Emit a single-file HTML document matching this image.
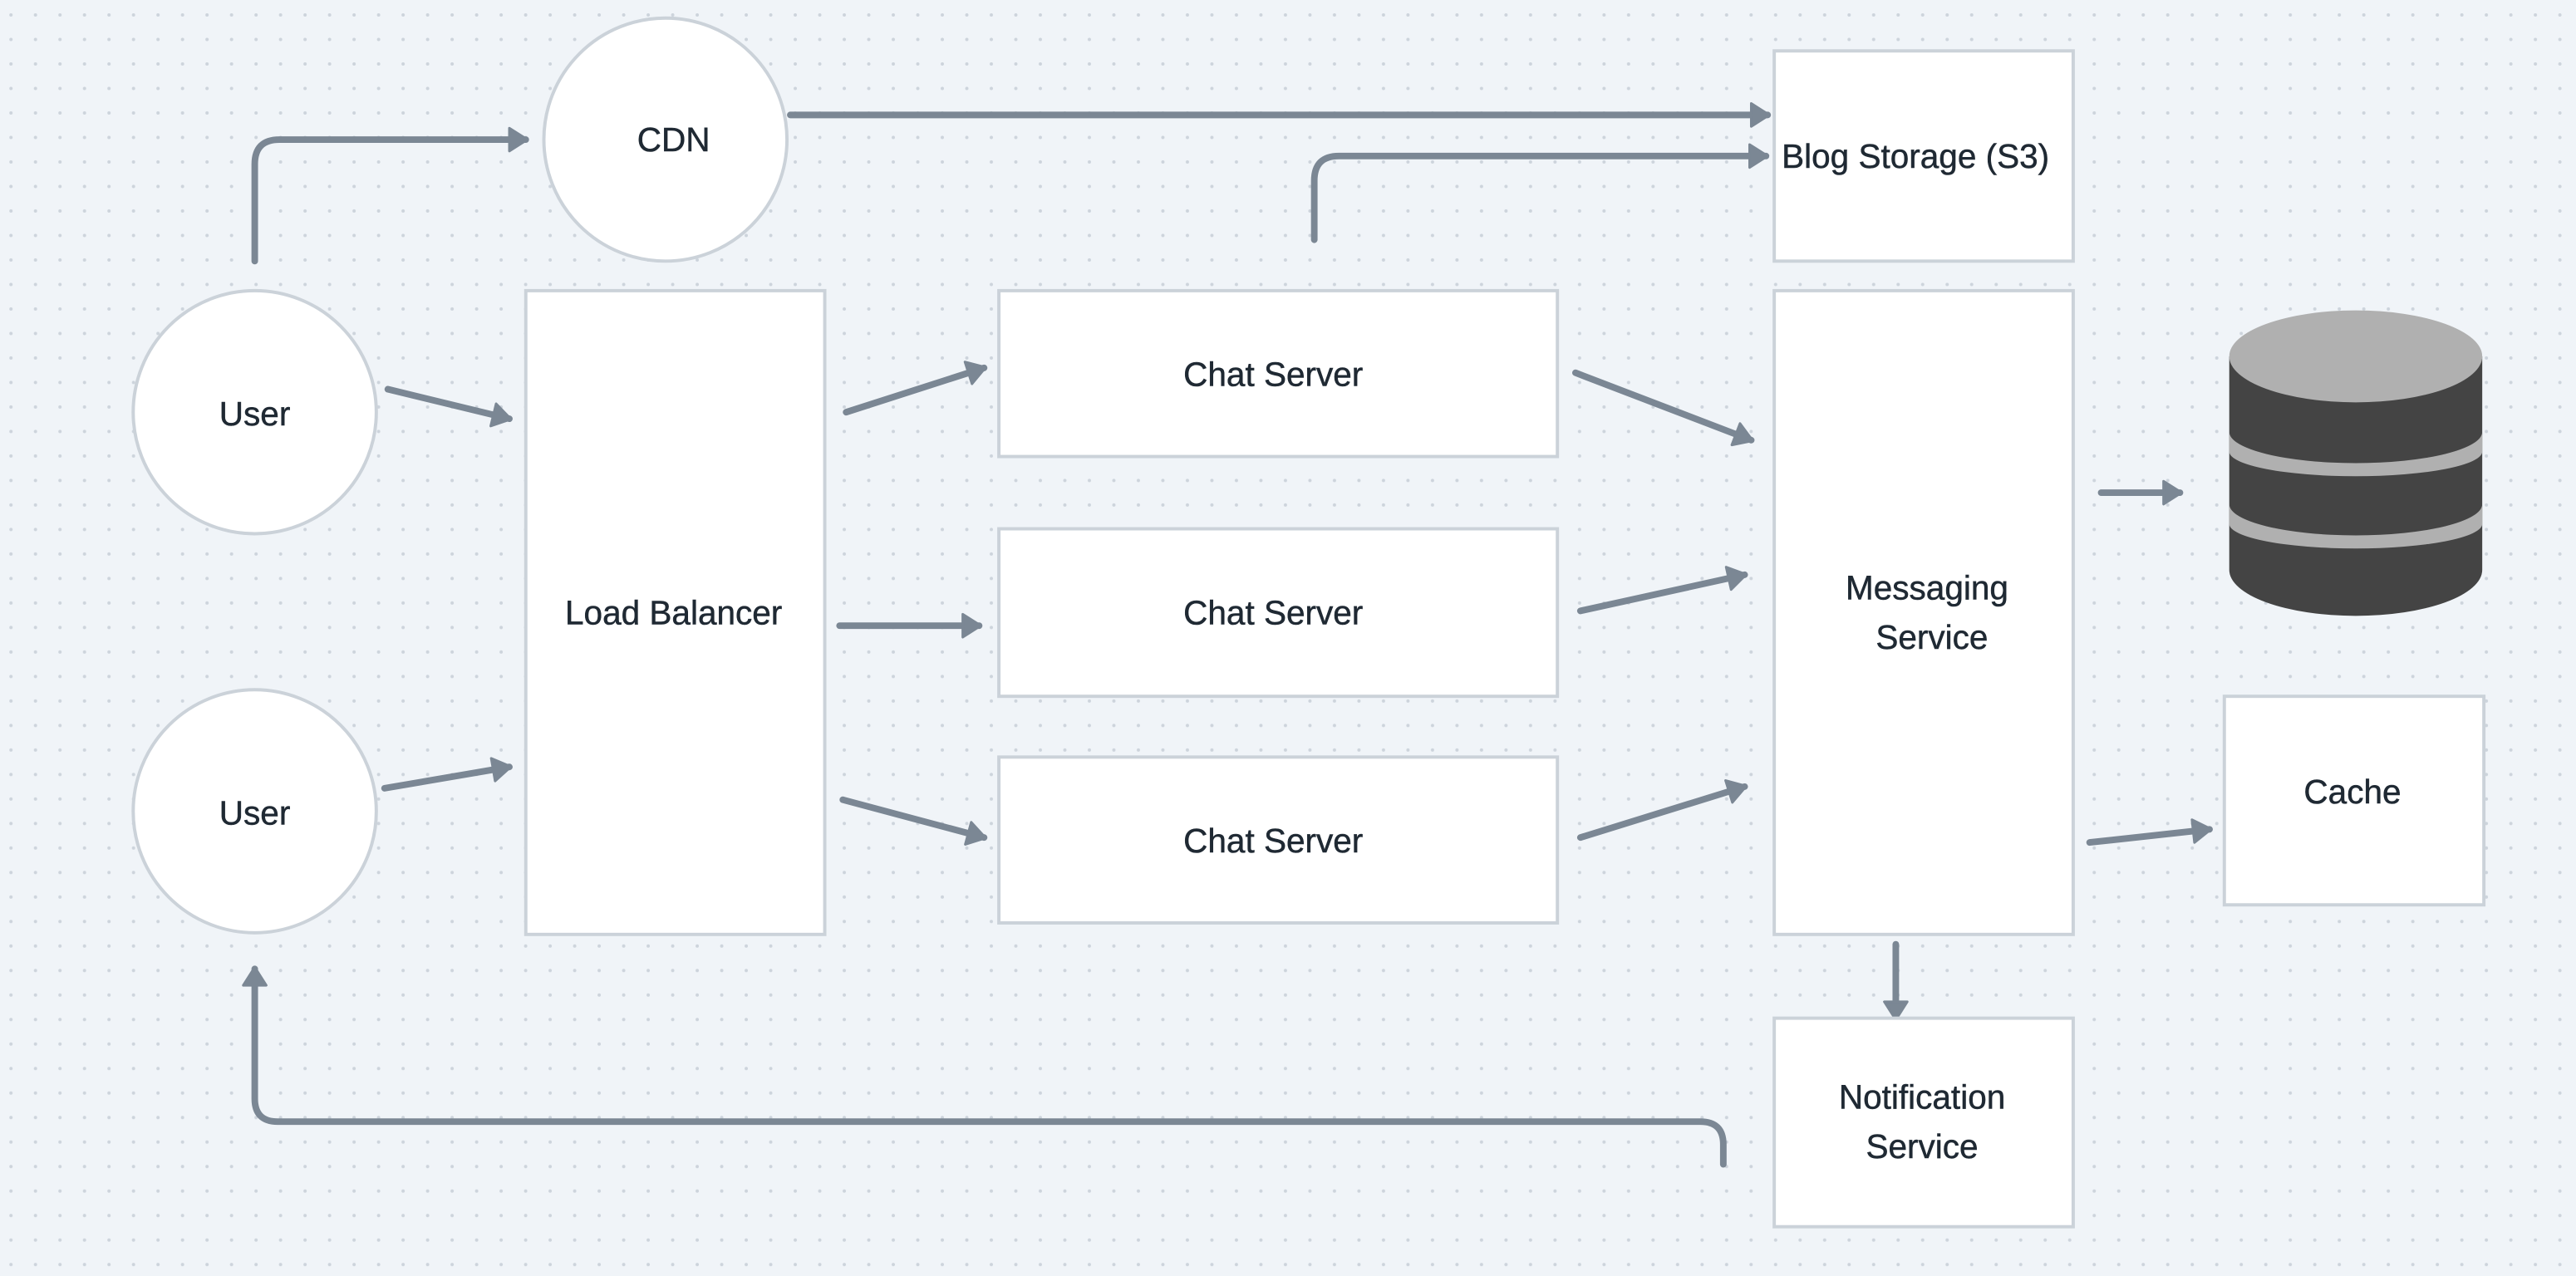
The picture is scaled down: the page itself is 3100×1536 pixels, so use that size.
<!DOCTYPE html>
<html><head><meta charset="utf-8"><style>
html,body{margin:0;padding:0;background:#f0f4f8;}
svg{display:block;}
text{font-family:"Liberation Sans",sans-serif;font-size:20.5px;fill:#1f2933;text-anchor:middle;dominant-baseline:central;stroke:#1f2933;stroke-width:0.25;}
</style></head><body>
<svg width="3100" height="1536" viewBox="0 0 1568 777" xmlns="http://www.w3.org/2000/svg">
<defs>
<pattern id="dots" x="0" y="0" width="14.92" height="14.92" patternUnits="userSpaceOnUse">
<circle cx="6.6" cy="9.1" r="1" fill="#cdd4dc"/>
</pattern>
<marker id="ah" markerWidth="18" markerHeight="18" refX="13" refY="9" orient="auto" markerUnits="userSpaceOnUse">
<path d="M3,2 L14,9 L3,16 Z" fill="#7b8794" stroke="#7b8794" stroke-width="1.5" stroke-linejoin="round"/>
</marker>
</defs>
<rect width="1568" height="777" fill="#f0f4f8"/>
<rect width="1568" height="777" fill="url(#dots)"/>

<g fill="none" stroke="#7b8794" stroke-width="4" stroke-linecap="round" marker-end="url(#ah)">
<path d="M155,159 L155,100 Q155,85 170,85 L320,85"/>
<path d="M481,70 L1076,70"/>
<path d="M800,146 L800,110 Q800,95 815,95 L1075,95"/>
<path d="M236,237 L310,255"/>
<path d="M234,480 L310,467"/>
<path d="M515,251 L599,224"/>
<path d="M511,381 L596,381"/>
<path d="M513,487 L599,510"/>
<path d="M959,227 L1066,268"/>
<path d="M962,372 L1062,350"/>
<path d="M962,510 L1062,479"/>
<path d="M1279,300 L1327,300"/>
<path d="M1272,513 L1345,505"/>
<path d="M1154,575 L1154,620"/>
<path d="M1049,709 L1049,697 Q1049,683 1035,683 L169,683 Q155,683 155,669 L155,590"/>
</g>

<g fill="#fff" stroke="#cbd2d9" stroke-width="2">
<circle cx="405" cy="85" r="74"/>
<circle cx="155" cy="251" r="74"/>
<circle cx="155" cy="494" r="74"/>
<rect x="320" y="177" width="182" height="392"/>
<rect x="608" y="177" width="340" height="101"/>
<rect x="608" y="322" width="340" height="102"/>
<rect x="608" y="461" width="340" height="101"/>
<rect x="1080" y="31" width="182" height="128"/>
<rect x="1080" y="177" width="182" height="392"/>
<rect x="1080" y="620" width="182" height="127"/>
<rect x="1354" y="424" width="158" height="127"/>
</g>

<!-- database -->
<g>
<path d="M1357,217 L1357,347 A77,28 0 0 0 1511,347 L1511,217 Z" fill="#444"/>
<path d="M1357,263 A77,19 0 0 0 1511,263 L1511,275 A77,15 0 0 1 1357,275 Z" fill="#b0b0b0"/>
<path d="M1357,307 A77,19 0 0 0 1511,307 L1511,319 A77,15 0 0 1 1357,319 Z" fill="#b0b0b0"/>
<ellipse cx="1434" cy="217" rx="77" ry="28" fill="#b0b0b0"/>
</g>

<text x="410" y="85">CDN</text>
<text x="155" y="252">User</text>
<text x="155" y="495">User</text>
<text x="410" y="373">Load Balancer</text>
<text x="775" y="228">Chat Server</text>
<text x="775" y="373">Chat Server</text>
<text x="775" y="512">Chat Server</text>
<text x="1166" y="95">Blog Storage (S3)</text>
<text x="1173" y="358">Messaging</text>
<text x="1176" y="388">Service</text>
<text x="1170" y="668">Notification</text>
<text x="1170" y="698">Service</text>
<text x="1432" y="482">Cache</text>
</svg>
</body></html>
